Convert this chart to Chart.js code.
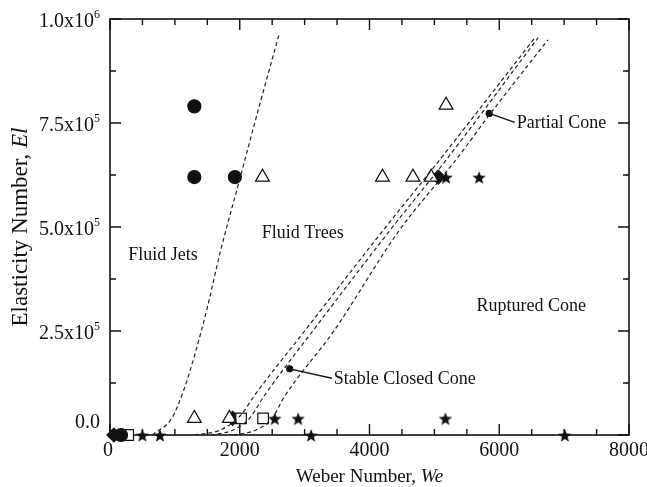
<!DOCTYPE html>
<html>
<head>
<meta charset="utf-8">
<script src="https://cdn.jsdelivr.net/npm/chart.js@4/dist/chart.umd.min.js"></script>
<style>
  html, body { margin: 0; padding: 0; background: #fff; }
</style>
</head>
<body>
<canvas id="phaseChart" width="647" height="487"></canvas>
<script>
// axis ranges and tick labels
const xTicks = [0, 2000, 4000, 6000, 8000];
const xTickLabels = ["0", "2000", "4000", "6000", "8000"];
const yTicks = [0, 250000, 500000, 750000, 1000000];
const yTickLabels = ["0.0", "2.5x10^5", "5.0x10^5", "7.5x10^5", "1.0x10^6"];

// Fluid Jets (filled circles)
const jetsWe = [1300, 1300, 1925, 170];
const jetsEl = [790000, 620000, 620000, 0];

// Fluid Trees (open triangles)
const treesWe = [2350, 4200, 4670, 4950, 5180, 1300, 1840];
const treesEl = [620000, 620000, 620000, 620000, 793000, 40000, 40000];

// Stable Closed Cone (open squares)
const stableWe = [2020, 2360, 280];
const stableEl = [40000, 40000, 0];

// Partial Cone (filled diamonds)
const partialWe = [5060, 1890, 60];
const partialEl = [620000, 40000, 0];

// Ruptured Cone (filled stars)
const rupturedWe = [5180, 5690, 2540, 2900, 5170, 500, 770, 3100, 7010];
const rupturedEl = [620000, 620000, 40000, 40000, 40000, 0, 0, 0, 0];

// dashed regime boundaries
const jetBoundWe = [650, 950, 1130, 1310, 1490, 1700, 2000, 2300, 2610];
const jetBoundEl = [0, 40000, 105000, 195000, 300000, 440000, 615000, 790000, 965000];

const coneLeftWe = [1300, 1700, 2000, 2250, 3000, 4200, 5100, 6550];
const coneLeftEl = [0, 12000, 45000, 100000, 250000, 490000, 665000, 955000];

const coneMidWe = [1550, 1900, 2150, 2380, 3150, 4330, 5200, 6600];
const coneMidEl = [0, 12000, 40000, 95000, 255000, 495000, 665000, 955000];

const coneRightWe = [1900, 2250, 2500, 2680, 3450, 4450, 5350, 5850, 6750];
const coneRightEl = [0, 12000, 40000, 90000, 250000, 490000, 665000, 770000, 950000];

// leader-line dots
const pointerWe = [2770, 5845];
const pointerEl = [159000, 773000];

const regionLabels = [
  { text: "Fluid Jets", we: 280, el: 433000 },
  { text: "Fluid Trees", we: 2340, el: 485000 },
  { text: "Ruptured Cone", we: 5650, el: 310000 },
  { text: "Stable Closed Cone", we: 3450, el: 134000, pointer: 0 },
  { text: "Partial Cone", we: 6270, el: 749000, pointer: 1 }
];

const SERIF = '"Liberation Serif", "Times New Roman", serif';
const INK = "#111";

function pts(xs, ys) {
  return xs.map((x, i) => ({ x: x, y: ys[i] }));
}

function starImage(r) {
  const s = Math.ceil(r * 2) + 2;
  const c = document.createElement("canvas");
  c.width = s; c.height = s;
  const g = c.getContext("2d");
  g.beginPath();
  for (let i = 0; i < 10; i++) {
    const a = -Math.PI / 2 + i * Math.PI / 5;
    const rr = i % 2 ? r * 0.42 : r;
    g.lineTo(s / 2 + rr * Math.cos(a), s / 2 + 1 + rr * Math.sin(a));
  }
  g.closePath();
  g.fillStyle = INK;
  g.fill();
  return c;
}

// draws "2.5x10^5" style text, right or centre aligned
function drawSci(ctx, label, x, y, size, align) {
  const [base, exp] = label.split("^");
  ctx.font = size + "px " + SERIF;
  const wb = ctx.measureText(base).width;
  const supSize = Math.round(size * 0.6);
  ctx.font = supSize + "px " + SERIF;
  const we = exp ? ctx.measureText(exp).width : 0;
  const total = wb + we;
  let left = align === "right" ? x - total : x - total / 2;
  ctx.textAlign = "left";
  ctx.textBaseline = "middle";
  ctx.font = size + "px " + SERIF;
  ctx.fillText(base, left, y);
  if (exp) {
    ctx.font = supSize + "px " + SERIF;
    ctx.fillText(exp, left + wb, y - size * 0.38);
  }
}

function drawParts(ctx, parts, x, y) {
  let total = 0;
  parts.forEach(p => { ctx.font = p.font; total += ctx.measureText(p.t).width; });
  let cx = x - total / 2;
  ctx.textAlign = "left";
  ctx.textBaseline = "middle";
  parts.forEach(p => {
    ctx.font = p.font;
    ctx.fillText(p.t, cx, y);
    cx += ctx.measureText(p.t).width;
  });
}

const framePlugin = {
  id: "frame",
  beforeDatasetsDraw(chart) {
    const { ctx, chartArea: a, scales: { x, y } } = chart;
    ctx.save();
    ctx.strokeStyle = INK;
    ctx.lineWidth = 1.6;
    ctx.strokeRect(a.left, a.top, a.right - a.left, a.bottom - a.top);
    ctx.lineWidth = 1.4;
    ctx.beginPath();
    for (let v = 0; v <= 8000; v += 500) {
      const px = x.getPixelForValue(v);
      const len = v % 2000 === 0 ? 11 : 6;
      ctx.moveTo(px, a.bottom); ctx.lineTo(px, a.bottom - len);
      ctx.moveTo(px, a.top); ctx.lineTo(px, a.top + len);
    }
    for (let v = 0; v <= 1000000; v += 125000) {
      const py = y.getPixelForValue(v);
      const len = v % 250000 === 0 ? 11 : 6;
      ctx.moveTo(a.left, py); ctx.lineTo(a.left + len, py);
      ctx.moveTo(a.right, py); ctx.lineTo(a.right - len, py);
    }
    ctx.stroke();
    ctx.restore();
  },
  afterDraw(chart) {
    const { ctx, chartArea: a, scales: { x, y } } = chart;
    ctx.save();
    ctx.fillStyle = INK;

    // tick labels
    xTicks.forEach((v, i) => {
      let px = x.getPixelForValue(v);
      if (i === 0) px -= 2;
      drawSci(ctx, xTickLabels[i], px, 451, 20, "center");
    });
    yTicks.forEach((v, i) => {
      let py = y.getPixelForValue(v) + 3;
      if (i === 0) py -= 15;
      drawSci(ctx, yTickLabels[i], a.left - 10, py, 20, "right");
    });

    // axis titles
    drawParts(ctx, [
      { t: "Weber Number, ", font: "19px " + SERIF },
      { t: "We", font: "italic 19px " + SERIF }
    ], (a.left + a.right) / 2, 477);
    ctx.save();
    ctx.translate(21, (a.top + a.bottom) / 2);
    ctx.rotate(-Math.PI / 2);
    drawParts(ctx, [
      { t: "Elasticity Number, ", font: "23px " + SERIF },
      { t: "El", font: "italic 23px " + SERIF }
    ], 0, 0);
    ctx.restore();

    // region labels and leader lines
    ctx.font = "18px " + SERIF;
    ctx.textAlign = "left";
    ctx.textBaseline = "middle";
    regionLabels.forEach(l => {
      const lx = x.getPixelForValue(l.we);
      const ly = y.getPixelForValue(l.el);
      ctx.fillText(l.text, lx, ly);
      if (l.pointer !== undefined) {
        const dx = x.getPixelForValue(pointerWe[l.pointer]);
        const dy = y.getPixelForValue(pointerEl[l.pointer]);
        ctx.beginPath();
        ctx.strokeStyle = INK;
        ctx.lineWidth = 1.4;
        ctx.moveTo(dx, dy);
        ctx.lineTo(lx - 2, ly - 1);
        ctx.stroke();
      }
    });
    ctx.restore();
  }
};

function boundary(xs, ys) {
  return {
    data: pts(xs, ys),
    showLine: true,
    borderColor: "#222",
    borderWidth: 1.2,
    borderDash: [4, 3],
    pointRadius: 0,
    cubicInterpolationMode: "monotone",
    fill: false
  };
}

function markers(xs, ys, style, radius, fillColor) {
  return {
    data: pts(xs, ys),
    showLine: false,
    pointStyle: style,
    pointRadius: radius,
    pointBackgroundColor: fillColor,
    pointBorderColor: INK,
    pointBorderWidth: 1.2,
    clip: false
  };
}

const star = starImage(7);

new Chart(document.getElementById("phaseChart"), {
  type: "scatter",
  data: {
    datasets: [
      boundary(jetBoundWe, jetBoundEl),
      boundary(coneLeftWe, coneLeftEl),
      boundary(coneMidWe, coneMidEl),
      boundary(coneRightWe, coneRightEl),
      markers(jetsWe, jetsEl, "circle", 6.5, INK),
      markers(treesWe, treesEl, "triangle", 8, "#fff"),
      markers(stableWe, stableEl, "rect", 7.5, "#fff"),
      markers(partialWe, partialEl, "rectRot", 7, INK),
      markers(rupturedWe, rupturedEl, star, 7, INK),
      markers(pointerWe, pointerEl, "circle", 3, INK)
    ]
  },
  options: {
    responsive: false,
    animation: false,
    layout: { padding: { left: 110, top: 19, right: 18, bottom: 52 } },
    plugins: {
      legend: { display: false },
      tooltip: { enabled: false }
    },
    scales: {
      x: { type: "linear", min: 0, max: 8000, display: false },
      y: { type: "linear", min: 0, max: 1000000, display: false }
    }
  },
  plugins: [framePlugin]
});
</script>
</body>
</html>
